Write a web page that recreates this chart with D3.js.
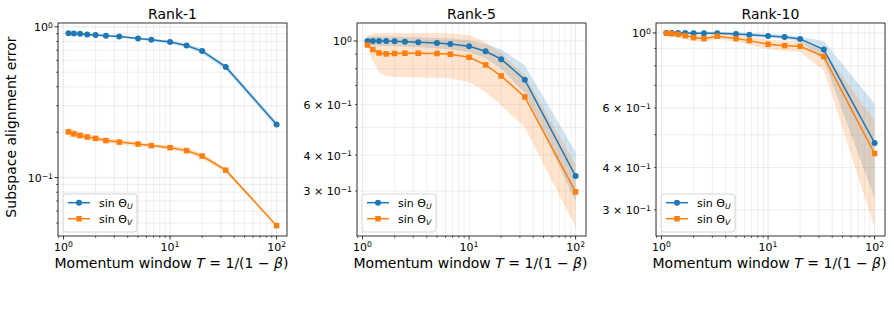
<!DOCTYPE html>
<html>
<head>
<meta charset="UTF-8">
<title>Subspace alignment error vs momentum window</title>
<style>
  body { margin: 0; background: #fff; }
  svg { font-family: "DejaVu Sans", sans-serif; }
</style>
</head>
<body>
<script src="https://cdn.jsdelivr.net/npm/d3@7"></script>
<script>
// momentum window T = 1/(1-beta)
const windows = [1.111, 1.25, 1.429, 1.667, 2, 2.5, 3.333, 5, 6.667, 10, 14.29, 20, 33.33, 100];
const titles = ["Rank-1", "Rank-5", "Rank-10"];

// Rank-1
const r1U   = [0.907, 0.902, 0.898, 0.890, 0.881, 0.874, 0.862, 0.838, 0.821, 0.792, 0.752, 0.690, 0.542, 0.225];
const r1ULo = [0.890, 0.885, 0.882, 0.875, 0.866, 0.860, 0.848, 0.823, 0.805, 0.772, 0.728, 0.665, 0.520, 0.215];
const r1UHi = [0.924, 0.919, 0.914, 0.905, 0.896, 0.889, 0.876, 0.853, 0.837, 0.812, 0.776, 0.715, 0.565, 0.235];
const r1V   = [0.201, 0.195, 0.190, 0.186, 0.182, 0.176, 0.172, 0.167, 0.163, 0.158, 0.151, 0.139, 0.112, 0.048];
const r1VLo = [0.187, 0.183, 0.180, 0.177, 0.174, 0.169, 0.166, 0.161, 0.158, 0.153, 0.145, 0.133, 0.108, 0.047];
const r1VHi = [0.216, 0.208, 0.201, 0.196, 0.190, 0.183, 0.178, 0.173, 0.168, 0.163, 0.157, 0.145, 0.116, 0.049];

// Rank-5
const r5U   = [1.000, 1.000, 1.000, 0.999, 0.997, 0.994, 0.990, 0.984, 0.975, 0.959, 0.921, 0.864, 0.733, 0.338];
const r5ULo = [0.965, 0.963, 0.962, 0.960, 0.958, 0.955, 0.951, 0.944, 0.933, 0.915, 0.870, 0.800, 0.660, 0.275];
const r5UHi = [1.035, 1.037, 1.038, 1.038, 1.036, 1.033, 1.030, 1.025, 1.020, 1.005, 0.975, 0.935, 0.823, 0.410];
const r5V   = [0.968, 0.933, 0.908, 0.901, 0.904, 0.906, 0.906, 0.904, 0.899, 0.877, 0.825, 0.755, 0.638, 0.298];
const r5VLo = [0.950, 0.850, 0.775, 0.755, 0.750, 0.748, 0.746, 0.744, 0.740, 0.720, 0.664, 0.597, 0.500, 0.224];
const r5VHi = [1.045, 1.060, 1.065, 1.066, 1.066, 1.066, 1.066, 1.066, 1.064, 1.050, 0.990, 0.905, 0.760, 0.370];

// Rank-10
const r10U   = [1.000, 1.000, 1.000, 0.999, 0.998, 0.998, 0.998, 0.993, 0.987, 0.980, 0.973, 0.960, 0.893, 0.473];
const r10ULo = [0.990, 0.990, 0.990, 0.989, 0.988, 0.987, 0.987, 0.982, 0.975, 0.967, 0.960, 0.945, 0.830, 0.324];
const r10UHi = [1.010, 1.010, 1.010, 1.009, 1.008, 1.008, 1.008, 1.004, 0.999, 0.993, 0.987, 0.975, 0.947, 0.618];
const r10V   = [0.998, 0.994, 0.990, 0.982, 0.969, 0.962, 0.978, 0.962, 0.949, 0.926, 0.917, 0.913, 0.851, 0.440];
const r10VLo = [0.985, 0.978, 0.970, 0.960, 0.945, 0.940, 0.958, 0.940, 0.925, 0.895, 0.885, 0.878, 0.776, 0.266];
const r10VHi = [1.010, 1.010, 1.008, 1.002, 0.990, 0.985, 0.998, 0.985, 0.972, 0.955, 0.950, 0.948, 0.885, 0.550];

const xDomain = [0.887, 125.2];
const yDomains = [[0.041, 1.06], [0.209, 1.155], [0.251, 1.07]];
const yLabelled = [[1, 0.1], [1, 0.6, 0.4, 0.3], [1, 0.6, 0.4, 0.3]];

const panels = [
  { u: r1U, uLo: r1ULo, uHi: r1UHi, v: r1V, vLo: r1VLo, vHi: r1VHi },
  { u: r5U, uLo: r5ULo, uHi: r5UHi, v: r5V, vLo: r5VLo, vHi: r5VHi },
  { u: r10U, uLo: r10ULo, uHi: r10UHi, v: r10V, vLo: r10VLo, vHi: r10VHi }
];

const blue = "#1f77b4", orange = "#ff7f0e";
const W = 894, H = 311;
const plotTop = 23, plotBottom = 236, pw = 229;
const lefts = [58, 357, 656];

const svg = d3.select("body").append("svg").attr("width", W).attr("height", H);

function logTicks(dom) {
  const out = [];
  const e0 = Math.floor(Math.log10(dom[0])), e1 = Math.ceil(Math.log10(dom[1]));
  for (let e = e0; e <= e1; e++) {
    for (let k = 1; k <= 9; k++) {
      const v = k * Math.pow(10, e);
      if (v >= dom[0] && v <= dom[1]) out.push({ v, k, e, major: k === 1 });
    }
  }
  return out;
}

const sup = e => (e < 0 ? "\u2212" : "") + Math.abs(e);

// writes "10^e" or "k × 10^e" into a text selection
function tickText(sel, k, e) {
  sel.append("tspan").text(k === 1 ? "10" : k + " \u00d7 10");
  sel.append("tspan").attr("font-size", "0.7em").attr("dy", "-0.45em").text(sup(e));
}

panels.forEach((p, i) => {
  const L = lefts[i], R = L + pw;
  const x = d3.scaleLog().domain(xDomain).range([L, R]);
  const y = d3.scaleLog().domain(yDomains[i]).range([plotBottom, plotTop]);
  const g = svg.append("g");

  g.append("clipPath").attr("id", "clip" + i)
    .append("rect").attr("x", L).attr("y", plotTop).attr("width", pw).attr("height", plotBottom - plotTop);

  const xt = logTicks(xDomain), yt = logTicks(yDomains[i]);

  // grid
  const grid = g.append("g").attr("stroke", "#b0b0b0").attr("stroke-width", 0.8);
  grid.selectAll(".gx").data(xt).enter().append("line")
    .attr("x1", d => x(d.v)).attr("x2", d => x(d.v)).attr("y1", plotTop).attr("y2", plotBottom)
    .attr("stroke-opacity", d => d.major ? 0.35 : 0.25);
  grid.selectAll(".gy").data(yt).enter().append("line")
    .attr("y1", d => y(d.v)).attr("y2", d => y(d.v)).attr("x1", L).attr("x2", R)
    .attr("stroke-opacity", d => d.major ? 0.35 : 0.25);

  const plot = g.append("g").attr("clip-path", `url(#clip${i})`);
  const area = (lo, hi) => d3.area().x((d, j) => x(windows[j])).y0((d, j) => y(lo[j])).y1((d, j) => y(hi[j]));
  const line = vals => d3.line().x((d, j) => x(windows[j])).y((d, j) => y(vals[j]));

  plot.append("path").attr("d", area(p.uLo, p.uHi)(windows)).attr("fill", blue).attr("fill-opacity", 0.2);
  plot.append("path").attr("d", area(p.vLo, p.vHi)(windows)).attr("fill", orange).attr("fill-opacity", 0.2);

  plot.append("path").attr("d", line(p.u)(windows)).attr("fill", "none").attr("stroke", blue).attr("stroke-width", 1.5);
  plot.selectAll(".mu").data(p.u).enter().append("circle")
    .attr("cx", (d, j) => x(windows[j])).attr("cy", d => y(d)).attr("r", 3).attr("fill", blue);

  plot.append("path").attr("d", line(p.v)(windows)).attr("fill", "none").attr("stroke", orange).attr("stroke-width", 1.5);
  plot.selectAll(".mv").data(p.v).enter().append("rect")
    .attr("x", (d, j) => x(windows[j]) - 2.75).attr("y", d => y(d) - 2.75)
    .attr("width", 5.5).attr("height", 5.5).attr("fill", orange);

  // ticks
  const tk = g.append("g").attr("stroke", "#000");
  tk.selectAll(".tx").data(xt).enter().append("line")
    .attr("x1", d => x(d.v)).attr("x2", d => x(d.v)).attr("y1", plotBottom)
    .attr("y2", d => plotBottom + (d.major ? 3.5 : 2)).attr("stroke-width", d => d.major ? 0.8 : 0.6);
  tk.selectAll(".ty").data(yt).enter().append("line")
    .attr("y1", d => y(d.v)).attr("y2", d => y(d.v)).attr("x1", L)
    .attr("x2", d => L - (d.major ? 3.5 : 2)).attr("stroke-width", d => d.major ? 0.8 : 0.6);

  xt.filter(d => d.major).forEach(d => {
    const t = g.append("text").attr("x", x(d.v)).attr("y", 250.5)
      .attr("text-anchor", "middle").attr("font-size", 11);
    tickText(t, d.k, d.e);
  });
  yt.filter(d => yLabelled[i].some(v => Math.abs(v - d.v) < 1e-9)).forEach(d => {
    const t = g.append("text").attr("x", L - 5).attr("y", y(d.v) + 4.5)
      .attr("text-anchor", "end").attr("font-size", 11);
    tickText(t, d.k, d.e);
  });

  // frame
  g.append("rect").attr("x", L).attr("y", plotTop).attr("width", pw).attr("height", plotBottom - plotTop)
    .attr("fill", "none").attr("stroke", "#000").attr("stroke-width", 0.8);

  // title
  g.append("text").attr("x", (L + R) / 2).attr("y", 19).attr("text-anchor", "middle")
    .attr("font-size", 14).text(titles[i]);

  // x label
  const xl = g.append("text").attr("x", (L + R) / 2 - 1).attr("y", 268)
    .attr("text-anchor", "middle").attr("font-size", 14);
  xl.append("tspan").text("Momentum window ");
  xl.append("tspan").attr("font-style", "italic").text("T");
  xl.append("tspan").text(" = 1/(1 \u2212 ");
  xl.append("tspan").attr("font-style", "italic").text("\u03b2");
  xl.append("tspan").text(")");

  // legend
  const lx = L + 5, ly = 194;
  const lg = g.append("g");
  lg.append("rect").attr("x", lx).attr("y", ly).attr("width", 74).attr("height", 38)
    .attr("rx", 3).attr("fill", "#fff").attr("fill-opacity", 0.8)
    .attr("stroke", "#cccccc").attr("stroke-width", 0.8);
  [["U", blue], ["V", orange]].forEach(([s, c], j) => {
    const cy = ly + 8.7 + j * 16;
    lg.append("line").attr("x1", lx + 5).attr("x2", lx + 27).attr("y1", cy).attr("y2", cy)
      .attr("stroke", c).attr("stroke-width", 1.5);
    if (j === 0) lg.append("circle").attr("cx", lx + 16).attr("cy", cy).attr("r", 3).attr("fill", c);
    else lg.append("rect").attr("x", lx + 13.25).attr("y", cy - 2.75).attr("width", 5.5).attr("height", 5.5).attr("fill", c);
    const t = lg.append("text").attr("x", lx + 36).attr("y", cy + 4).attr("font-size", 11);
    t.append("tspan").text("sin \u0398");
    t.append("tspan").attr("font-size", "0.7em").attr("font-style", "italic").attr("dy", "0.3em").text(s);
  });
});

// y label
svg.append("text").attr("transform", "translate(15.5,127) rotate(-90)")
  .attr("text-anchor", "middle").attr("font-size", 14).text("Subspace alignment error");
</script>
</body>
</html>
